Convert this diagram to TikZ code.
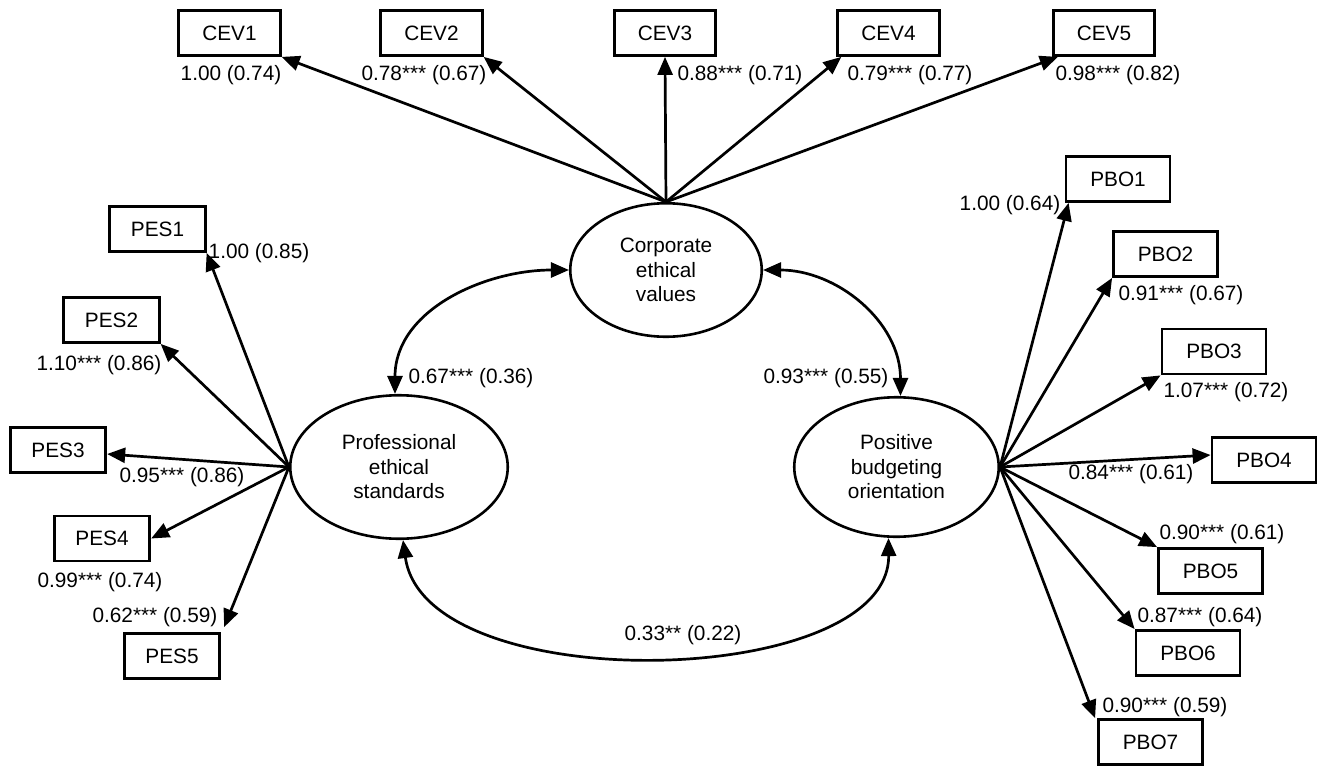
\documentclass[tikz,border=0pt]{standalone}
\usepackage{fontspec}
\setmainfont{Liberation Sans}
\usetikzlibrary{arrows.meta,shapes.geometric}
\begin{document}
\begin{tikzpicture}[x=1pt,y=-1pt,
  every node/.style={font=\fontsize{20.8}{24.5}\selectfont},
  obs/.style={draw,line width=2.8pt,inner sep=0pt,minimum height=45pt},
  cevbox/.style={obs,minimum width=101.5pt},
  pesbox/.style={obs,minimum width=95.5pt},
  pbobox/.style={obs,minimum width=104pt},
  lat/.style={draw,ellipse,line width=2.6pt,inner sep=0pt,align=center},
  load/.style={line width=2.7pt,-{Triangle[length=18pt,width=15pt]}},
  cov/.style={line width=2.7pt,{Triangle[length=18pt,width=15pt]}-{Triangle[length=18pt,width=15pt]}},
  lbl/.style={inner sep=0pt}]
\useasboundingbox (0,0) rectangle (1318,766);

% observed indicators
\node[cevbox] (cev1) at (229.5,33) {CEV1};
\node[cevbox] (cev2) at (431.5,33) {CEV2};
\node[cevbox] (cev3) at (665,33) {CEV3};
\node[cevbox] (cev4) at (888.5,33) {CEV4};
\node[cevbox] (cev5) at (1104,33) {CEV5};

\node[pesbox] (pes1) at (157.5,229) {PES1};
\node[pesbox] (pes2) at (111.5,320) {PES2};
\node[pesbox] (pes3) at (58,450) {PES3};
\node[pesbox] (pes4) at (102,538.5) {PES4};
\node[pesbox] (pes5) at (172,656) {PES5};

\node[pbobox] (pbo1) at (1118,179) {PBO1};
\node[pbobox] (pbo2) at (1165.5,254) {PBO2};
\node[pbobox] (pbo3) at (1214,351.5) {PBO3};
\node[pbobox] (pbo4) at (1264,460) {PBO4};
\node[pbobox] (pbo5) at (1210.5,571) {PBO5};
\node[pbobox] (pbo6) at (1188,653) {PBO6};
\node[pbobox] (pbo7) at (1150.5,742) {PBO7};

% latent variables
\node[lat,minimum width=191.5pt,minimum height=133.5pt] (cev) at (666,270) {Corporate\\ethical\\values};
\node[lat,minimum width=217.5pt,minimum height=143.5pt] (pes) at (399,467) {Professional\\ethical\\standards};
\node[lat,minimum width=204.5pt,minimum height=139.5pt] (pbo) at (896.5,467) {Positive\\budgeting\\orientation};

% loadings
\draw[load] (cev.north) -- (cev1.south east);
\draw[load] (cev.north) -- (cev2.south east);
\draw[load] (cev.north) -- (cev3.south);
\draw[load] (cev.north) -- ([xshift=5pt]cev4.south west);
\draw[load] (cev.north) -- ([xshift=6pt]cev5.south west);

\draw[load] (pes.west) -- (pes1.south east);
\draw[load] (pes.west) -- (pes2.south east);
\draw[load] (pes.west) -- ([yshift=-4pt]pes3.east);
\draw[load] (pes.west) -- (pes4.east);
\draw[load] (pes.west) -- ([xshift=3pt,yshift=5pt]pes5.north east);

\draw[load] (pbo.east) -- ([xshift=4pt]pbo1.south west);
\draw[load] (pbo.east) -- (pbo2.south west);
\draw[load] (pbo.east) -- (pbo3.south west);
\draw[load] (pbo.east) -- ([yshift=5pt]pbo4.west);
\draw[load] (pbo.east) -- (pbo5.north west);
\draw[load] (pbo.east) -- (pbo6.north west);
\draw[load] (pbo.east) -- ([xshift=-2pt]pbo7.north west);

% covariances
\draw[cov] (cev.west) .. controls +(-84,0) and +(0,-84) .. ([xshift=-4pt]pes.north);
\draw[cov] (cev.east) .. controls +(74,0) and +(0,-74) .. ([xshift=4pt]pbo.north);
\draw[cov] ([xshift=4pt]pes.south) .. controls (425,700) and (890,690) .. ([xshift=-8pt]pbo.south);

% loading labels
\node[lbl] (lc1) at (231,75) {1.00 (0.74)};
\node[lbl] (lc2) at (424,75) {0.78*** (0.67)};
\node[lbl] (lc3) at (740,75) {0.88*** (0.71)};
\node[lbl] (lc4) at (910,75) {0.79*** (0.77)};
\node[lbl] (lc5) at (1118,75) {0.98*** (0.82)};

\node[lbl] (lp1) at (259,253) {1.00 (0.85)};
\node[lbl] (lp2) at (99,365) {1.10*** (0.86)};
\node[lbl] (lp3) at (182,477) {0.95*** (0.86)};
\node[lbl] (lp4) at (100,582) {0.99*** (0.74)};
\node[lbl] (lp5) at (155,617) {0.62*** (0.59)};

\node[lbl] (lb1) at (1010,205) {1.00 (0.64)};
\node[lbl] (lb2) at (1181,295) {0.91*** (0.67)};
\node[lbl] (lb3) at (1226,392) {1.07*** (0.72)};
\node[lbl] (lb4) at (1131,474) {0.84*** (0.61)};
\node[lbl] (lb5) at (1222,534) {0.90*** (0.61)};
\node[lbl] (lb6) at (1200,617) {0.87*** (0.64)};
\node[lbl] (lb7) at (1165,707) {0.90*** (0.59)};

% covariance labels
\node[lbl] (lcp) at (471,378) {0.67*** (0.36)};
\node[lbl] (lcb) at (826,378) {0.93*** (0.55)};
\node[lbl] (lpb) at (683,635) {0.33** (0.22)};
\end{tikzpicture}
\end{document}
